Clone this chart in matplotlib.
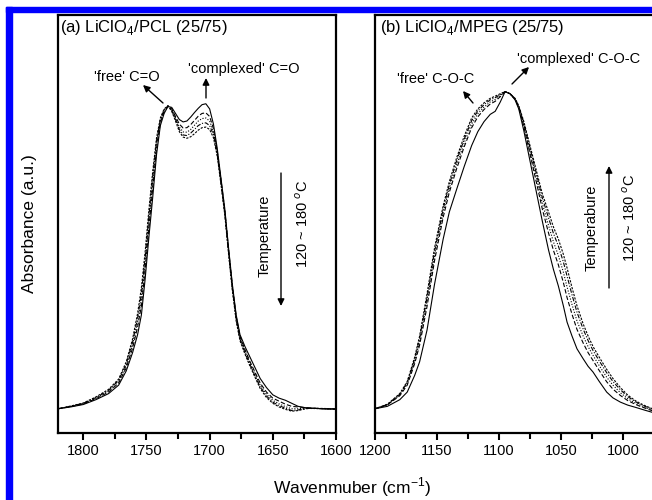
import matplotlib
matplotlib.use('Agg')
import matplotlib.pyplot as plt
from matplotlib.patches import Rectangle
from matplotlib.ticker import MultipleLocator

plt.rcParams['font.family'] = ['Liberation Sans', 'DejaVu Sans']
plt.rcParams['mathtext.fontset'] = 'custom'
plt.rcParams['mathtext.rm'] = 'Liberation Sans'

# (a) LiClO4/PCL, C=O region, 5 temperatures (120 -> 180 C)
wn_a = [1820, 1810, 1800, 1790, 1780, 1772, 1766, 1761, 1757, 1754, 1751, 1748, 1745,
        1742, 1739, 1736, 1733, 1730, 1727, 1724, 1721, 1718, 1715, 1712, 1709, 1706,
        1703, 1700, 1697, 1694, 1691, 1688, 1685, 1682, 1679, 1676, 1672, 1668, 1664,
        1660, 1655, 1650, 1645, 1640, 1635, 1630, 1625, 1620, 1610, 1600]
pcl_1 = [0.000, 0.006, 0.014, 0.030, 0.050, 0.078, 0.125, 0.185, 0.245, 0.31, 0.43, 0.57, 0.70,
         0.84, 0.935, 0.975, 0.998, 0.995, 0.975, 0.955, 0.947, 0.950, 0.963, 0.978, 0.992, 1.004,
         1.007, 0.99, 0.94, 0.86, 0.76, 0.66, 0.53, 0.41, 0.31, 0.245, 0.205, 0.17, 0.135,
         0.10, 0.07, 0.046, 0.035, 0.028, 0.018, 0.008, 0.004, 0.002, 0.0, -0.002]
pcl_2 = [0.000, 0.007, 0.016, 0.033, 0.055, 0.085, 0.135, 0.20, 0.27, 0.34, 0.46, 0.60, 0.73,
         0.86, 0.945, 0.98, 0.999, 0.99, 0.965, 0.94, 0.927, 0.928, 0.938, 0.952, 0.966, 0.975,
         0.977, 0.965, 0.925, 0.85, 0.755, 0.655, 0.525, 0.405, 0.305, 0.24, 0.195, 0.155, 0.12,
         0.085, 0.055, 0.035, 0.025, 0.015, 0.008, 0.006, 0.004, 0.002, 0.0, -0.001]
pcl_3 = [0.000, 0.008, 0.017, 0.035, 0.058, 0.09, 0.142, 0.21, 0.285, 0.36, 0.48, 0.62, 0.75,
         0.875, 0.95, 0.985, 1.0, 0.988, 0.96, 0.93, 0.914, 0.913, 0.922, 0.936, 0.95, 0.958,
         0.96, 0.95, 0.915, 0.845, 0.75, 0.65, 0.52, 0.40, 0.30, 0.235, 0.19, 0.15, 0.113,
         0.078, 0.048, 0.028, 0.016, 0.007, 0.0, 0.0, 0.002, 0.001, 0.0, -0.001]
pcl_4 = [0.000, 0.008, 0.018, 0.037, 0.061, 0.094, 0.148, 0.22, 0.30, 0.38, 0.50, 0.64, 0.77,
         0.885, 0.955, 0.987, 1.0, 0.985, 0.955, 0.922, 0.904, 0.902, 0.91, 0.922, 0.935, 0.942,
         0.944, 0.935, 0.905, 0.84, 0.745, 0.645, 0.515, 0.395, 0.295, 0.23, 0.185, 0.145, 0.108,
         0.072, 0.042, 0.022, 0.010, 0.002, -0.006, -0.004, 0.001, 0.002, 0.0, 0.0]
pcl_5 = [0.000, 0.009, 0.019, 0.039, 0.064, 0.098, 0.155, 0.23, 0.315, 0.40, 0.52, 0.66, 0.785,
         0.895, 0.96, 0.99, 1.0, 0.982, 0.95, 0.915, 0.897, 0.893, 0.898, 0.908, 0.92, 0.928,
         0.93, 0.922, 0.895, 0.835, 0.74, 0.64, 0.51, 0.39, 0.29, 0.225, 0.18, 0.14, 0.103,
         0.067, 0.037, 0.018, 0.006, -0.002, -0.008, -0.006, -0.001, 0.002, 0.001, 0.0]

# (b) LiClO4/MPEG, C-O-C region
wn_b = [1200, 1190, 1180, 1174, 1168, 1164, 1158, 1152, 1145, 1140, 1134, 1128, 1122, 1117,
        1112, 1107, 1103, 1099, 1095, 1091, 1087, 1084, 1080, 1075, 1070, 1065, 1060, 1056,
        1052, 1048, 1045, 1041, 1037, 1032, 1028, 1024, 1019, 1013, 1008, 1002, 996, 990,
        986, 982, 976]
peg_1 = [0.0, 0.008, 0.03, 0.055, 0.11, 0.155, 0.26, 0.41, 0.56, 0.65, 0.726, 0.80, 0.869, 0.915,
         0.948, 0.972, 0.982, 1.012, 1.047, 1.04, 1.02, 0.99, 0.92, 0.82, 0.72, 0.62, 0.525, 0.46,
         0.405, 0.34, 0.286, 0.24, 0.198, 0.165, 0.14, 0.121, 0.09, 0.055, 0.036, 0.022, 0.012, 0.005,
         0.0, -0.005, -0.012]
peg_2 = [0.0, 0.013, 0.043, 0.078, 0.149, 0.210, 0.338, 0.488, 0.632, 0.715, 0.794, 0.865, 0.928, 0.964,
         0.988, 1.006, 1.015, 1.03, 1.047, 1.04, 1.022, 0.995, 0.934, 0.843, 0.752, 0.66, 0.581, 0.523,
         0.475, 0.417, 0.367, 0.312, 0.262, 0.217, 0.185, 0.159, 0.126, 0.089, 0.065, 0.044, 0.027, 0.015,
         0.008, 0.002, -0.007]
peg_3 = [0.0, 0.013, 0.046, 0.082, 0.157, 0.221, 0.354, 0.504, 0.646, 0.728, 0.807, 0.878, 0.94, 0.974,
         0.996, 1.013, 1.021, 1.034, 1.047, 1.04, 1.023, 0.997, 0.94, 0.853, 0.766, 0.679, 0.606, 0.551,
         0.506, 0.451, 0.402, 0.344, 0.290, 0.24, 0.205, 0.176, 0.142, 0.104, 0.078, 0.053, 0.033, 0.019,
         0.012, 0.005, -0.004]
peg_4 = [0.0, 0.014, 0.048, 0.087, 0.164, 0.232, 0.368, 0.518, 0.659, 0.74, 0.82, 0.89, 0.951, 0.983,
         1.004, 1.02, 1.027, 1.037, 1.047, 1.04, 1.024, 0.999, 0.946, 0.863, 0.78, 0.697, 0.631, 0.579,
         0.537, 0.485, 0.438, 0.376, 0.319, 0.263, 0.225, 0.192, 0.158, 0.119, 0.09, 0.063, 0.040, 0.024,
         0.015, 0.008, -0.002]
peg_5 = [0.0, 0.015, 0.05, 0.09, 0.17, 0.24, 0.38, 0.53, 0.67, 0.75, 0.83, 0.90, 0.96, 0.99,
         1.01, 1.025, 1.032, 1.04, 1.047, 1.04, 1.025, 1.0, 0.95, 0.87, 0.79, 0.71, 0.65, 0.60,
         0.56, 0.51, 0.465, 0.40, 0.34, 0.28, 0.24, 0.205, 0.17, 0.13, 0.10, 0.07, 0.045, 0.027,
         0.018, 0.01, 0.0]

styles = ['-', (0, (4, 2)), (0, (1, 1.5)), (0, (4, 1.5, 1, 1.5)), (0, (2, 1.2))]

W, H = 652, 500
fig = plt.figure(figsize=(W / 100, H / 100), dpi=100)

def fx(px):
    return px / W

def fy(py):
    return 1 - py / H

# blue frame
fig.patches.append(Rectangle((fx(6), 0), fx(12) - fx(6), fy(7), transform=fig.transFigure,
                             color='#0000ff', zorder=0))
fig.patches.append(Rectangle((fx(6), fy(12)), 1, fy(7) - fy(12), transform=fig.transFigure,
                             color='#0000ff', zorder=0))

ax1 = fig.add_axes([fx(58), fy(433), fx(336) - fx(58), fy(15) - fy(433)])
ax2 = fig.add_axes([fx(375), fy(433), fx(660) - fx(375), fy(15) - fy(433)])

for y, ls in zip([pcl_1, pcl_2, pcl_3, pcl_4, pcl_5], styles):
    ax1.plot(wn_a, y, color='k', lw=0.8, linestyle=ls)
for y, ls in zip([peg_1, peg_2, peg_3, peg_4, peg_5], styles):
    ax2.plot(wn_b, y, color='k', lw=0.8, linestyle=ls)

ax1.set_xlim(1820, 1600)
ax2.set_xlim(1200, 970)
for ax in (ax1, ax2):
    ax.set_ylim(-0.08, 1.30)
    ax.set_yticks([])
    ax.xaxis.set_major_locator(MultipleLocator(50))
    ax.xaxis.set_minor_locator(MultipleLocator(25))
    ax.tick_params(axis='x', which='major', direction='out', length=5, width=1.5,
                   labelsize=10.5, pad=3)
    ax.tick_params(axis='x', which='minor', direction='out', length=4, width=1.5)
    for sp in ax.spines.values():
        sp.set_linewidth(1.6)

ax1.text(0.007, 0.969, '(a) LiClO$_4$/PCL (25/75)', transform=ax1.transAxes,
         ha='left', va='center', fontsize=12)
ax2.text(0.018, 0.969, '(b) LiClO$_4$/MPEG (25/75)', transform=ax2.transAxes,
         ha='left', va='center', fontsize=12)

arrow = dict(arrowstyle='-|>', lw=1.0, color='k', mutation_scale=10, shrinkA=0, shrinkB=0)

def note(txt, px, py, **kw):
    fig.text(fx(px), fy(py), txt, ha='center', va='center', **kw)

def arr(x0, y0, x1, y1):
    fig.add_artist(matplotlib.patches.FancyArrowPatch((fx(x0), fy(y0)), (fx(x1), fy(y1)),
                                                      transform=fig.transFigure, **arrow))

note("'free' C=O", 127, 77, fontsize=10.5)
arr(163, 103, 143, 85)
note("'complexed' C=O", 244, 69, fontsize=10.5)
arr(206, 98, 206, 78)
arr(281, 173, 281, 306)
note('Temperature', 265, 236, fontsize=10.5, rotation=90)
note('120 ~ 180 $^o$C', 303, 224, fontsize=10.5, rotation=90)

note("'free' C-O-C", 436, 79, fontsize=10.5)
arr(473, 103, 463, 91)
note("'complexed' C-O-C", 579, 59, fontsize=10.5)
arr(512, 84, 529, 67)
arr(609, 288, 609, 166)
note('Temperabure', 592, 228, fontsize=10.5, rotation=90)
note('120 ~ 180 $^o$C', 630, 218, fontsize=10.5, rotation=90)

note('Wavenmuber (cm$^{-1}$)', 352, 487, fontsize=12.5)
note('Absorbance (a.u.)', 30, 224, fontsize=12.5, rotation=90)

fig.savefig('out.png', dpi=100)
